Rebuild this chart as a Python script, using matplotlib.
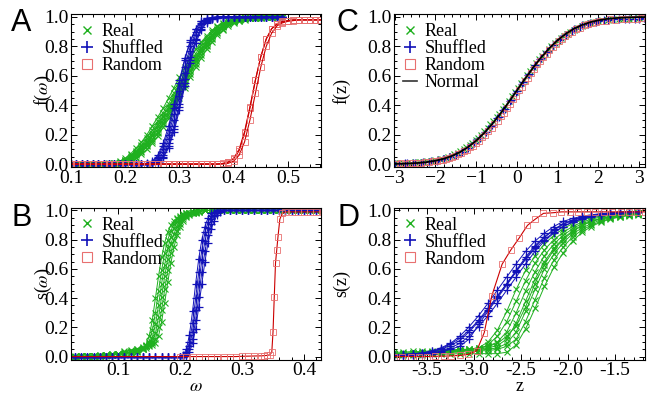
import matplotlib
matplotlib.use("Agg")
import matplotlib.pyplot as plt
from matplotlib.lines import Line2D
from matplotlib.ticker import MultipleLocator, AutoMinorLocator, FormatStrFormatter

# ---------------- Panel A : f(omega) ----------------
A_x = [0.10, 0.11, 0.12, 0.13, 0.14, 0.15, 0.16, 0.17, 0.18, 0.19,
       0.20, 0.21, 0.22, 0.23, 0.24, 0.25, 0.26, 0.27, 0.28, 0.29,
       0.30, 0.31, 0.32, 0.33, 0.34, 0.35, 0.36, 0.37, 0.38, 0.39,
       0.40, 0.41, 0.42, 0.43, 0.44, 0.45, 0.46, 0.47, 0.48, 0.49]
A_real = [
    [0, 0, 0, 0, 0, 0, 0, 0.005, 0.01, 0.02, 0.04, 0.07, 0.11, 0.15, 0.20, 0.26, 0.32, 0.38, 0.45, 0.52,
     0.59, 0.66, 0.72, 0.78, 0.83, 0.87, 0.91, 0.94, 0.96, 0.97, 0.98, 0.99, 0.99, 0.995, 1, 1, 1, 1, 1, 1],
    [0, 0, 0, 0, 0, 0, 0, 0, 0.005, 0.015, 0.03, 0.06, 0.09, 0.13, 0.18, 0.23, 0.29, 0.35, 0.41, 0.48,
     0.55, 0.62, 0.69, 0.75, 0.81, 0.86, 0.90, 0.93, 0.95, 0.97, 0.98, 0.985, 0.99, 0.995, 1, 1, 1, 1, 1, 1],
    [0, 0, 0, 0, 0, 0, 0, 0, 0.003, 0.01, 0.02, 0.045, 0.075, 0.11, 0.15, 0.20, 0.26, 0.32, 0.38, 0.45,
     0.52, 0.59, 0.66, 0.72, 0.78, 0.83, 0.875, 0.91, 0.94, 0.96, 0.975, 0.985, 0.99, 0.995, 1, 1, 1, 1, 1, 1],
    [0, 0, 0, 0, 0, 0, 0, 0, 0, 0.01, 0.025, 0.05, 0.08, 0.12, 0.16, 0.21, 0.27, 0.33, 0.39, 0.46,
     0.53, 0.60, 0.67, 0.73, 0.79, 0.84, 0.88, 0.92, 0.94, 0.96, 0.975, 0.985, 0.99, 0.995, 0.995, 1, 1, 1, 1, 1],
    [0, 0, 0, 0, 0, 0, 0, 0, 0, 0.008, 0.02, 0.035, 0.06, 0.09, 0.13, 0.17, 0.22, 0.28, 0.35, 0.42,
     0.49, 0.56, 0.63, 0.70, 0.76, 0.81, 0.86, 0.90, 0.93, 0.955, 0.97, 0.98, 0.99, 0.995, 0.995, 1, 1, 1, 1, 1],
    [0, 0, 0, 0, 0, 0, 0, 0, 0, 0.005, 0.02, 0.04, 0.07, 0.10, 0.14, 0.19, 0.24, 0.30, 0.36, 0.43,
     0.50, 0.57, 0.64, 0.71, 0.77, 0.82, 0.87, 0.91, 0.94, 0.96, 0.97, 0.98, 0.99, 0.99, 0.995, 1, 1, 1, 1, 1],
    [0, 0, 0, 0, 0, 0, 0, 0, 0, 0, 0.01, 0.03, 0.05, 0.08, 0.12, 0.16, 0.21, 0.27, 0.33, 0.40,
     0.47, 0.54, 0.61, 0.68, 0.74, 0.80, 0.85, 0.89, 0.92, 0.95, 0.965, 0.975, 0.985, 0.99, 0.995, 0.995, 1, 1, 1, 1],
    [0, 0, 0, 0, 0, 0, 0, 0, 0, 0, 0.005, 0.02, 0.04, 0.07, 0.10, 0.14, 0.19, 0.25, 0.31, 0.38,
     0.45, 0.52, 0.59, 0.66, 0.72, 0.78, 0.83, 0.88, 0.91, 0.94, 0.96, 0.97, 0.98, 0.99, 0.99, 0.995, 1, 1, 1, 1],
]
A_shuf = [
    [0, 0, 0, 0, 0, 0, 0, 0, 0, 0, 0, 0, 0, 0, 0.005, 0.02, 0.06, 0.14, 0.26, 0.41,
     0.57, 0.72, 0.84, 0.92, 0.97, 0.99, 0.995, 1, 1, 1, 1, 1, 1, 1, 1, 1, 1, 1, 1, 1],
    [0, 0, 0, 0, 0, 0, 0, 0, 0, 0, 0, 0, 0, 0, 0, 0.015, 0.05, 0.12, 0.23, 0.38,
     0.55, 0.71, 0.83, 0.92, 0.97, 0.99, 0.995, 1, 1, 1, 1, 1, 1, 1, 1, 1, 1, 1, 1, 1],
    [0, 0, 0, 0, 0, 0, 0, 0, 0, 0, 0, 0, 0, 0, 0, 0.01, 0.04, 0.10, 0.20, 0.34,
     0.50, 0.66, 0.80, 0.90, 0.96, 0.985, 0.995, 1, 1, 1, 1, 1, 1, 1, 1, 1, 1, 1, 1, 1],
    [0, 0, 0, 0, 0, 0, 0, 0, 0, 0, 0, 0, 0, 0, 0, 0.005, 0.03, 0.08, 0.17, 0.30,
     0.46, 0.62, 0.77, 0.88, 0.95, 0.98, 0.99, 1, 1, 1, 1, 1, 1, 1, 1, 1, 1, 1, 1, 1],
    [0, 0, 0, 0, 0, 0, 0, 0, 0, 0, 0, 0, 0, 0, 0, 0, 0.02, 0.06, 0.14, 0.26,
     0.41, 0.58, 0.73, 0.85, 0.93, 0.97, 0.99, 0.995, 1, 1, 1, 1, 1, 1, 1, 1, 1, 1, 1, 1],
    [0, 0, 0, 0, 0, 0, 0, 0, 0, 0, 0, 0, 0, 0, 0, 0, 0.015, 0.05, 0.12, 0.24,
     0.39, 0.55, 0.71, 0.84, 0.92, 0.965, 0.985, 0.995, 1, 1, 1, 1, 1, 1, 1, 1, 1, 1, 1, 1],
    [0, 0, 0, 0, 0, 0, 0, 0, 0, 0, 0, 0, 0, 0, 0, 0, 0.01, 0.04, 0.11, 0.22,
     0.37, 0.53, 0.69, 0.82, 0.91, 0.96, 0.985, 0.995, 1, 1, 1, 1, 1, 1, 1, 1, 1, 1, 1, 1],
]
A_xr = [0.10, 0.11, 0.12, 0.13, 0.14, 0.15, 0.16, 0.17, 0.18, 0.19,
        0.20, 0.21, 0.22, 0.23, 0.24, 0.25, 0.26, 0.27, 0.28, 0.29,
        0.30, 0.31, 0.32, 0.33, 0.34, 0.35, 0.36, 0.37, 0.38, 0.39,
        0.40, 0.41, 0.42, 0.43, 0.44, 0.45, 0.46, 0.47, 0.48, 0.49,
        0.50, 0.51, 0.52, 0.53, 0.54, 0.55, 0.56]
A_rand = [
    [0, 0, 0, 0, 0, 0, 0, 0, 0, 0, 0, 0, 0, 0, 0, 0, 0, 0, 0, 0, 0, 0, 0, 0, 0, 0, 0, 0,
     0.005, 0.015, 0.04, 0.10, 0.22, 0.39, 0.57, 0.73, 0.85, 0.92, 0.955, 0.97, 0.975,
     0.98, 0.98, 0.98, 0.98, 0.98, 0.98],
    [0, 0, 0, 0, 0, 0, 0, 0, 0, 0, 0, 0, 0, 0, 0, 0, 0, 0, 0, 0, 0, 0, 0, 0, 0, 0, 0, 0,
     0.003, 0.012, 0.035, 0.09, 0.21, 0.38, 0.57, 0.73, 0.85, 0.92, 0.95, 0.965, 0.975,
     0.98, 0.98, 0.98, 0.98, 0.98, 0.98],
    [0, 0, 0, 0, 0, 0, 0, 0, 0, 0, 0, 0, 0, 0, 0, 0, 0, 0, 0, 0, 0, 0, 0, 0, 0, 0, 0, 0, 0,
     0.005, 0.02, 0.06, 0.15, 0.30, 0.48, 0.66, 0.80, 0.89, 0.94, 0.96, 0.97, 0.975,
     0.98, 0.98, 0.98, 0.98, 0.98],
]

# ---------------- Panel B : s(omega) ----------------
B_xg = [0.02, 0.03, 0.04, 0.05, 0.06, 0.07, 0.08, 0.09, 0.10, 0.11, 0.12, 0.13, 0.14,
        0.145, 0.15, 0.155, 0.16, 0.165, 0.17, 0.175, 0.18, 0.185, 0.19, 0.195, 0.20,
        0.205, 0.21, 0.215, 0.22, 0.225, 0.23,
        0.24, 0.25, 0.26, 0.27, 0.28, 0.29, 0.30, 0.31, 0.32, 0.33, 0.34, 0.35, 0.36,
        0.37, 0.38, 0.39, 0.40, 0.41, 0.42, 0.43]
B_real = [
    [0, 0, 0.002, 0.003, 0.005, 0.007, 0.01, 0.012, 0.015, 0.02, 0.025, 0.03, 0.05,
     0.08, 0.14, 0.25, 0.40, 0.55, 0.68, 0.78, 0.85, 0.90, 0.93, 0.95, 0.965, 0.975, 0.98, 0.985, 0.99, 0.995, 0.995,
     1, 1, 1, 1, 1, 1, 1, 1, 1, 1, 1, 1, 1, 1, 1, 1, 1, 1, 1, 1],
    [0, 0, 0.002, 0.003, 0.005, 0.008, 0.01, 0.015, 0.02, 0.025, 0.03, 0.04, 0.05,
     0.07, 0.10, 0.18, 0.30, 0.45, 0.59, 0.71, 0.80, 0.86, 0.91, 0.94, 0.955, 0.97, 0.98, 0.985, 0.99, 0.99, 0.995,
     1, 1, 1, 1, 1, 1, 1, 1, 1, 1, 1, 1, 1, 1, 1, 1, 1, 1, 1, 1],
    [0, 0.001, 0.002, 0.004, 0.006, 0.008, 0.01, 0.015, 0.02, 0.03, 0.04, 0.05, 0.06,
     0.07, 0.09, 0.13, 0.22, 0.35, 0.50, 0.63, 0.74, 0.82, 0.88, 0.92, 0.945, 0.96, 0.975, 0.985, 0.99, 0.99, 0.995,
     1, 1, 1, 1, 1, 1, 1, 1, 1, 1, 1, 1, 1, 1, 1, 1, 1, 1, 1, 1],
    [0, 0, 0.001, 0.003, 0.005, 0.007, 0.01, 0.015, 0.02, 0.035, 0.045, 0.055, 0.065,
     0.075, 0.085, 0.10, 0.16, 0.27, 0.41, 0.55, 0.67, 0.77, 0.84, 0.89, 0.93, 0.955, 0.97, 0.98, 0.985, 0.99, 0.995,
     1, 1, 1, 1, 1, 1, 1, 1, 1, 1, 1, 1, 1, 1, 1, 1, 1, 1, 1, 1],
    [0, 0, 0.001, 0.002, 0.004, 0.006, 0.008, 0.012, 0.015, 0.02, 0.03, 0.045, 0.06,
     0.07, 0.08, 0.09, 0.12, 0.20, 0.32, 0.46, 0.59, 0.71, 0.80, 0.86, 0.91, 0.94, 0.96, 0.975, 0.985, 0.99, 0.99,
     1, 1, 1, 1, 1, 1, 1, 1, 1, 1, 1, 1, 1, 1, 1, 1, 1, 1, 1, 1],
    [0, 0, 0.001, 0.002, 0.003, 0.005, 0.007, 0.01, 0.015, 0.02, 0.03, 0.04, 0.05,
     0.06, 0.07, 0.08, 0.09, 0.14, 0.24, 0.37, 0.51, 0.64, 0.75, 0.83, 0.89, 0.93, 0.955, 0.97, 0.98, 0.985, 0.99,
     1, 1, 1, 1, 1, 1, 1, 1, 1, 1, 1, 1, 1, 1, 1, 1, 1, 1, 1, 1],
]
B_xb = [0.02, 0.03, 0.04, 0.05, 0.06, 0.07, 0.08, 0.09, 0.10, 0.11, 0.12, 0.13, 0.14,
        0.15, 0.16, 0.17, 0.18, 0.19,
        0.20, 0.205, 0.21, 0.215, 0.22, 0.225, 0.23, 0.235, 0.24, 0.245, 0.25, 0.255,
        0.26, 0.265, 0.27,
        0.28, 0.29, 0.30, 0.31, 0.32, 0.33, 0.34, 0.35, 0.36, 0.37, 0.38, 0.39, 0.40,
        0.41, 0.42, 0.43]
B_shuf = [
    [0, 0, 0, 0, 0, 0, 0, 0, 0, 0, 0, 0, 0, 0, 0, 0, 0, 0,
     0, 0.01, 0.05, 0.15, 0.31, 0.50, 0.67, 0.80, 0.89, 0.95, 0.98, 0.99, 1, 1, 1,
     1, 1, 1, 1, 1, 1, 1, 1, 1, 1, 1, 1, 1, 1, 1, 1],
    [0, 0, 0, 0, 0, 0, 0, 0, 0, 0, 0, 0, 0, 0, 0, 0, 0, 0,
     0, 0.005, 0.03, 0.10, 0.23, 0.40, 0.58, 0.73, 0.85, 0.92, 0.96, 0.985, 0.995, 1, 1,
     1, 1, 1, 1, 1, 1, 1, 1, 1, 1, 1, 1, 1, 1, 1, 1],
    [0, 0, 0, 0, 0, 0, 0, 0, 0, 0, 0, 0, 0, 0, 0, 0, 0, 0,
     0, 0.003, 0.02, 0.07, 0.17, 0.32, 0.50, 0.66, 0.79, 0.88, 0.94, 0.97, 0.99, 1, 1,
     1, 1, 1, 1, 1, 1, 1, 1, 1, 1, 1, 1, 1, 1, 1, 1],
    [0, 0, 0, 0, 0, 0, 0, 0, 0, 0, 0, 0, 0, 0, 0, 0, 0, 0,
     0, 0, 0.01, 0.05, 0.12, 0.25, 0.41, 0.58, 0.72, 0.83, 0.91, 0.96, 0.98, 0.995, 1,
     1, 1, 1, 1, 1, 1, 1, 1, 1, 1, 1, 1, 1, 1, 1, 1],
    [0, 0, 0, 0, 0, 0, 0, 0, 0, 0, 0, 0, 0, 0, 0, 0, 0, 0,
     0, 0, 0.005, 0.03, 0.09, 0.19, 0.34, 0.50, 0.65, 0.78, 0.87, 0.93, 0.97, 0.99, 1,
     1, 1, 1, 1, 1, 1, 1, 1, 1, 1, 1, 1, 1, 1, 1, 1],
]
B_xr = [0.02, 0.04, 0.06, 0.08, 0.10, 0.12, 0.14, 0.16, 0.18,
        0.20, 0.21, 0.22, 0.23, 0.24, 0.25, 0.26, 0.27, 0.28, 0.29, 0.30, 0.31, 0.32, 0.33,
        0.335, 0.34, 0.345, 0.348, 0.350, 0.352, 0.354, 0.356, 0.358, 0.361, 0.365, 0.37,
        0.38, 0.39, 0.40, 0.41, 0.42, 0.43]
B_rand = [0, 0, 0, 0, 0, 0, 0, 0, 0,
          0, 0, 0, 0, 0, 0, 0, 0, 0, 0, 0.002, 0.003, 0.004, 0.005,
          0.006, 0.008, 0.012, 0.03, 0.17, 0.41, 0.64, 0.73, 0.82, 0.94, 0.98, 0.99,
          0.99, 0.99, 0.99, 0.99, 0.99, 0.99]

# ---------------- Panel C : f(z) ----------------
C_norm_z = [-3.05, -2.8, -2.6, -2.4, -2.2, -2.0, -1.8, -1.6, -1.4, -1.2, -1.0, -0.8, -0.6, -0.4, -0.2,
            0.0, 0.2, 0.4, 0.6, 0.8, 1.0, 1.2, 1.4, 1.6, 1.8, 2.0, 2.2, 2.4, 2.6, 2.8, 3.0, 3.15]
C_norm_f = [0.0011, 0.0026, 0.0047, 0.0082, 0.0139, 0.0228, 0.0359, 0.0548, 0.0808, 0.1151, 0.1587,
            0.2119, 0.2743, 0.3446, 0.4207, 0.5, 0.5793, 0.6554, 0.7257, 0.7881, 0.8413, 0.8849,
            0.9192, 0.9452, 0.9641, 0.9772, 0.9861, 0.9918, 0.9953, 0.9974, 0.9987, 0.9992]
C_real_z = [
    [-3.0, -2.8, -2.6, -2.4, -2.2, -2.0, -1.85, -1.7, -1.55, -1.4, -1.25, -1.1, -0.95, -0.8,
     -0.65, -0.5, -0.35, -0.2, -0.05, 0.1, 0.25, 0.4, 0.55, 0.7, 0.85, 1.0, 1.15, 1.3, 1.5,
     1.7, 1.9, 2.1, 2.35, 2.6, 2.85, 3.1],
    [-3.03, -2.7, -2.5, -2.3, -2.1, -1.9, -1.75, -1.6, -1.45, -1.3, -1.15, -1.0, -0.87, -0.72,
     -0.58, -0.43, -0.28, -0.12, 0.02, 0.17, 0.32, 0.47, 0.62, 0.78, 0.93, 1.08, 1.23, 1.4, 1.6,
     1.8, 2.0, 2.25, 2.5, 2.75, 3.0],
]
C_real_f = [
    [0.004, 0.006, 0.008, 0.012, 0.018, 0.027, 0.037, 0.05, 0.067, 0.088, 0.113, 0.145, 0.18,
     0.222, 0.27, 0.322, 0.376, 0.432, 0.49, 0.548, 0.605, 0.66, 0.712, 0.758, 0.80, 0.838,
     0.87, 0.898, 0.928, 0.95, 0.966, 0.977, 0.985, 0.989, 0.991, 0.992],
    [0.006, 0.008, 0.011, 0.015, 0.021, 0.031, 0.043, 0.058, 0.077, 0.1, 0.13, 0.164, 0.198,
     0.243, 0.29, 0.342, 0.398, 0.46, 0.515, 0.573, 0.63, 0.684, 0.734, 0.782, 0.822, 0.857,
     0.886, 0.914, 0.939, 0.957, 0.97, 0.98, 0.986, 0.989, 0.99],
]
C_shuf_z = [
    [-3.08, -2.9, -2.7, -2.5, -2.3, -2.1, -1.95, -1.8, -1.65, -1.5, -1.35, -1.2, -1.05, -0.9,
     -0.75, -0.6, -0.45, -0.3, -0.15, 0.0, 0.15, 0.3, 0.45, 0.6, 0.75, 0.9, 1.05, 1.2, 1.4,
     1.6, 1.8, 2.0, 2.25, 2.5, 2.75, 3.0],
    [-3.0, -2.75, -2.55, -2.35, -2.15, -1.97, -1.82, -1.67, -1.52, -1.37, -1.22, -1.07, -0.93,
     -0.78, -0.63, -0.48, -0.33, -0.18, -0.03, 0.12, 0.27, 0.42, 0.58, 0.73, 0.88, 1.03, 1.18,
     1.35, 1.55, 1.75, 1.95, 2.15, 2.4, 2.65, 2.9, 3.12],
]
C_shuf_f = [
    [0.002, 0.003, 0.005, 0.008, 0.012, 0.019, 0.026, 0.036, 0.048, 0.064, 0.085, 0.11, 0.142,
     0.178, 0.22, 0.268, 0.32, 0.376, 0.435, 0.496, 0.556, 0.615, 0.67, 0.722, 0.77, 0.812,
     0.85, 0.88, 0.915, 0.942, 0.96, 0.972, 0.982, 0.986, 0.988, 0.989],
    [0.003, 0.005, 0.007, 0.01, 0.016, 0.024, 0.034, 0.047, 0.063, 0.084, 0.11, 0.141, 0.175,
     0.216, 0.262, 0.313, 0.368, 0.426, 0.486, 0.546, 0.604, 0.66, 0.716, 0.764, 0.806, 0.844,
     0.876, 0.905, 0.932, 0.952, 0.966, 0.976, 0.984, 0.987, 0.989, 0.99],
]
C_rand_z = [
    [-3.02, -2.85, -2.65, -2.45, -2.25, -2.05, -1.9, -1.75, -1.6, -1.45, -1.3, -1.15, -1.0,
     -0.85, -0.7, -0.55, -0.4, -0.25, -0.1, 0.05, 0.2, 0.35, 0.5, 0.65, 0.8, 0.95, 1.1, 1.25,
     1.45, 1.65, 1.85, 2.05, 2.3, 2.55, 2.8, 3.05],
    [-2.95, -2.75, -2.55, -2.35, -2.15, -1.97, -1.82, -1.67, -1.52, -1.37, -1.22, -1.07, -0.93,
     -0.78, -0.62, -0.47, -0.32, -0.17, -0.02, 0.13, 0.28, 0.43, 0.58, 0.73, 0.88, 1.03, 1.18,
     1.35, 1.55, 1.75, 1.95, 2.18, 2.42, 2.68, 2.95],
]
C_rand_f = [
    [0.003, 0.004, 0.006, 0.009, 0.013, 0.019, 0.026, 0.036, 0.05, 0.066, 0.088, 0.115, 0.145,
     0.183, 0.226, 0.274, 0.326, 0.383, 0.442, 0.503, 0.564, 0.622, 0.678, 0.728, 0.774,
     0.815, 0.852, 0.883, 0.918, 0.944, 0.962, 0.974, 0.983, 0.987, 0.989, 0.99],
    [0.002, 0.003, 0.005, 0.008, 0.013, 0.02, 0.029, 0.041, 0.056, 0.075, 0.098, 0.126, 0.158,
     0.197, 0.243, 0.293, 0.347, 0.405, 0.466, 0.527, 0.588, 0.645, 0.7, 0.75, 0.795, 0.835,
     0.868, 0.9, 0.928, 0.95, 0.964, 0.975, 0.982, 0.986, 0.988],
]

# ---------------- Panel D : s(z) ----------------
D_z = [-3.85, -3.75, -3.65, -3.55, -3.45, -3.35, -3.25, -3.15, -3.05, -2.95, -2.85, -2.75, -2.65,
       -2.55, -2.45, -2.35, -2.25, -2.15, -2.05, -1.95, -1.85, -1.75, -1.65, -1.55, -1.45, -1.35, -1.25]
D_real = [
    [0.03, 0.03, 0.035, 0.035, 0.04, 0.04, 0.045, 0.05, 0.05, 0.06, 0.10, 0.18, 0.31, 0.46, 0.59,
     0.69, 0.77, 0.83, 0.875, 0.91, 0.935, 0.95, 0.96, 0.97, 0.975, 0.98, 0.985],
    [0.02, 0.02, 0.025, 0.025, 0.03, 0.035, 0.04, 0.04, 0.045, 0.05, 0.08, 0.14, 0.24, 0.38, 0.52,
     0.64, 0.73, 0.80, 0.85, 0.89, 0.92, 0.94, 0.955, 0.965, 0.972, 0.978, 0.984],
    [0.02, 0.025, 0.025, 0.03, 0.03, 0.035, 0.04, 0.045, 0.05, 0.06, 0.07, 0.10, 0.17, 0.30, 0.45,
     0.58, 0.69, 0.77, 0.83, 0.875, 0.91, 0.93, 0.945, 0.958, 0.967, 0.975, 0.98],
    [0.02, 0.02, 0.025, 0.025, 0.03, 0.03, 0.035, 0.04, 0.045, 0.05, 0.06, 0.075, 0.12, 0.23, 0.38,
     0.53, 0.65, 0.74, 0.81, 0.86, 0.90, 0.925, 0.945, 0.955, 0.965, 0.975, 0.98],
    [0.015, 0.02, 0.02, 0.025, 0.025, 0.03, 0.03, 0.035, 0.04, 0.045, 0.05, 0.06, 0.09, 0.17, 0.31,
     0.46, 0.60, 0.70, 0.78, 0.84, 0.88, 0.91, 0.935, 0.95, 0.96, 0.97, 0.978],
    [0.015, 0.015, 0.02, 0.02, 0.025, 0.025, 0.03, 0.03, 0.035, 0.04, 0.04, 0.05, 0.07, 0.12, 0.24,
     0.39, 0.54, 0.66, 0.75, 0.82, 0.865, 0.90, 0.925, 0.945, 0.958, 0.968, 0.975],
    [0.01, 0.01, 0.012, 0.012, 0.015, 0.015, 0.018, 0.02, 0.02, 0.02, 0.02, 0.02, 0.03, 0.08, 0.19,
     0.33, 0.48, 0.61, 0.71, 0.79, 0.85, 0.89, 0.92, 0.94, 0.955, 0.965, 0.972],
    [0.02, 0.02, 0.02, 0.025, 0.025, 0.03, 0.035, 0.04, 0.05, 0.06, 0.07, 0.09, 0.14, 0.21, 0.34,
     0.50, 0.63, 0.73, 0.80, 0.855, 0.895, 0.925, 0.94, 0.955, 0.965, 0.972, 0.978],
]
D_shuf = [
    [0.012, 0.015, 0.02, 0.025, 0.04, 0.06, 0.09, 0.14, 0.205, 0.28, 0.365, 0.455, 0.545, 0.635,
     0.72, 0.79, 0.845, 0.89, 0.925, 0.945, 0.96, 0.97, 0.978, 0.983, 0.988, 0.99, 0.992],
    [0.01, 0.012, 0.015, 0.02, 0.03, 0.05, 0.075, 0.11, 0.17, 0.24, 0.32, 0.41, 0.50, 0.59, 0.68,
     0.76, 0.82, 0.87, 0.91, 0.935, 0.955, 0.965, 0.975, 0.98, 0.985, 0.99, 0.99],
    [0.008, 0.01, 0.012, 0.016, 0.022, 0.035, 0.06, 0.09, 0.14, 0.205, 0.28, 0.365, 0.455, 0.545,
     0.635, 0.72, 0.79, 0.845, 0.89, 0.92, 0.945, 0.96, 0.97, 0.978, 0.984, 0.988, 0.99],
    [0.01, 0.01, 0.012, 0.015, 0.02, 0.03, 0.05, 0.07, 0.12, 0.22, 0.31, 0.40, 0.49, 0.58, 0.67,
     0.75, 0.815, 0.865, 0.905, 0.93, 0.95, 0.962, 0.972, 0.98, 0.985, 0.988, 0.99],
    [0.012, 0.014, 0.018, 0.024, 0.035, 0.055, 0.085, 0.125, 0.18, 0.25, 0.33, 0.415, 0.50, 0.585,
     0.665, 0.74, 0.80, 0.85, 0.89, 0.92, 0.94, 0.955, 0.968, 0.976, 0.982, 0.986, 0.99],
]
D_rz = [-3.85, -3.76, -3.67, -3.58, -3.50, -3.41, -3.32, -3.24, -3.15, -3.06, -2.97, -2.89, -2.81,
        -2.70, -2.61, -2.52, -2.43, -2.35, -2.26, -2.16, -2.07, -1.98, -1.89, -1.80, -1.71, -1.62,
        -1.53, -1.44, -1.35, -1.26, -1.18]
D_rand = [0.0, 0.0, 0.0, 0.0, 0.0, 0.002, 0.003, 0.005, 0.008, 0.015, 0.04, 0.164, 0.415, 0.632,
          0.727, 0.81, 0.898, 0.939, 0.98, 0.984, 0.99, 0.99, 0.99, 0.99, 0.99, 0.99, 0.99, 0.99,
          0.99, 0.99, 0.99]

# ---------------- styling ----------------
plt.rcParams['font.family'] = ['Liberation Serif', 'DejaVu Serif']
plt.rcParams['mathtext.fontset'] = 'stix'
plt.rcParams['axes.linewidth'] = 0.8

GREEN = '#1fb01f'
BLUE = '#1212b8'
RED_LINE = '#cc0000'
RED_MK = '#e87070'
TICK_FS = 14
LAB_FS = 13
LEG_FS = 13

fig = plt.figure(figsize=(6.51, 3.97), dpi=100)
W, H = 651.0, 397.0


def add_ax(l, t, r, b):
    return fig.add_axes([l / W, 1 - b / H, (r - l) / W, (b - t) / H])


axA = add_ax(71, 14, 321, 167)
axB = add_ax(71, 207.5, 321, 359.5)
axC = add_ax(394, 14, 645, 167)
axD = add_ax(394, 207.5, 645, 359.5)

kw_g = dict(color=GREEN, marker='x', ms=3.8, mew=0.8, lw=0.7)
kw_b = dict(color=BLUE, marker='+', ms=5.5, mew=0.9, lw=0.7)
kw_r = dict(color=RED_LINE, marker='s', ms=4.3, mew=0.6, lw=0.8, mfc='none', mec=RED_MK)

# Panel A
for y in A_real:
    axA.plot(A_x, y, **kw_g)
for y in A_shuf:
    axA.plot(A_x, y, **kw_b)
for y in A_rand:
    axA.plot(A_xr, y, **kw_r)

# Panel B
for y in B_real:
    axB.plot(B_xg, y, **kw_g)
for y in B_shuf:
    axB.plot(B_xb, y, **kw_b)
axB.plot(B_xr, B_rand, markevery=slice(9, None), **kw_r)

# Panel C
for z, f in zip(C_real_z, C_real_f):
    axC.plot(z, f, ls='none', marker='x', color=GREEN, ms=3.8, mew=0.8)
for z, f in zip(C_shuf_z, C_shuf_f):
    axC.plot(z, f, ls='none', marker='+', color=BLUE, ms=5.5, mew=0.9)
for z, f in zip(C_rand_z, C_rand_f):
    axC.plot(z, f, ls='none', marker='s', mfc='none', mec=RED_MK, ms=4.5, mew=0.6)
axC.plot(C_norm_z, C_norm_f, color='black', lw=1.3)

# Panel D
for y in D_real:
    axD.plot(D_z, y, **kw_g)
for y in D_shuf:
    axD.plot(D_z, y, **kw_b)
axD.plot(D_rz, D_rand, **kw_r)

# axes formatting
limits = {axA: (0.1, 0.561), axB: (0.0236, 0.4275), axC: (-3.02, 3.15), axD: (-3.85, -1.18)}
majors = {axA: 0.1, axB: 0.1, axC: 1.0, axD: 0.5}
for ax in (axA, axB, axC, axD):
    ax.set_xlim(*limits[ax])
    ax.set_ylim(-0.02, 1.02)
    ax.xaxis.set_major_locator(MultipleLocator(majors[ax]))
    ax.xaxis.set_minor_locator(AutoMinorLocator(5))
    ax.yaxis.set_major_locator(MultipleLocator(0.2))
    ax.yaxis.set_minor_locator(AutoMinorLocator(4))
    ax.tick_params(which='both', direction='in', top=True, right=True, labelsize=TICK_FS, pad=2,
                   width=0.7)
    ax.tick_params(which='major', length=4.5)
    ax.tick_params(which='minor', length=2.2)
    ax.yaxis.set_major_formatter(FormatStrFormatter('%.1f'))

axA.xaxis.set_major_formatter(FormatStrFormatter('%.1f'))
axB.xaxis.set_major_formatter(FormatStrFormatter('%.1f'))
axD.xaxis.set_major_formatter(FormatStrFormatter('%.1f'))
axA.set_xticks([0.1, 0.2, 0.3, 0.4, 0.5])
axB.set_xticks([0.1, 0.2, 0.3, 0.4])
axD.set_xticks([-3.5, -3.0, -2.5, -2.0, -1.5])

axA.set_ylabel(r'f($\omega$)', fontsize=LAB_FS)
axB.set_ylabel(r's($\omega$)', fontsize=LAB_FS)
axC.set_ylabel('f(z)', fontsize=LAB_FS)
axD.set_ylabel('s(z)', fontsize=LAB_FS)
axB.set_xlabel(r'$\omega$', fontsize=LAB_FS)
axD.set_xlabel('z', fontsize=LAB_FS)
axA.yaxis.set_label_coords((54 - 71) / 250.0, 0.5)
axB.yaxis.set_label_coords((54 - 71) / 250.0, 0.5)
axC.yaxis.set_label_coords((350 - 394) / 251.0, 0.5)
axD.yaxis.set_label_coords((350 - 394) / 251.0, 0.5)
axB.xaxis.set_label_coords(0.5, -(378 - 359.5) / 152.0)
axD.xaxis.set_label_coords(0.5, -(378 - 359.5) / 152.0)

# legends
h_real = Line2D([], [], ls='none', marker='x', color=GREEN, ms=6, mew=1.0)
h_shuf = Line2D([], [], ls='none', marker='+', color=BLUE, ms=8.5, mew=1.2)
h_rand = Line2D([], [], ls='none', marker='s', mfc='none', mec=RED_MK, ms=7, mew=0.8)
h_norm = Line2D([], [], color='#333333', lw=1.2)
leg_kw = dict(loc='upper left', frameon=False, fontsize=LEG_FS, handlelength=0.8, handletextpad=0.4,
              labelspacing=0.0, borderaxespad=0.4, borderpad=0.1)
for ax in (axA, axB, axD):
    ax.legend([h_real, h_shuf, h_rand], ['Real', 'Shuffled', 'Random'], **leg_kw)
axC.legend([h_real, h_shuf, h_rand, h_norm], ['Real', 'Shuffled', 'Random', 'Normal'], **leg_kw)

# panel letters
for lab, x, y in (('A', 11, 8), ('B', 11, 203), ('C', 337, 8), ('D', 337, 203)):
    fig.text(x / W, 1 - y / H, lab, fontsize=22, family='Liberation Sans', ha='left', va='top')

fig.savefig('out.png', dpi=100)
